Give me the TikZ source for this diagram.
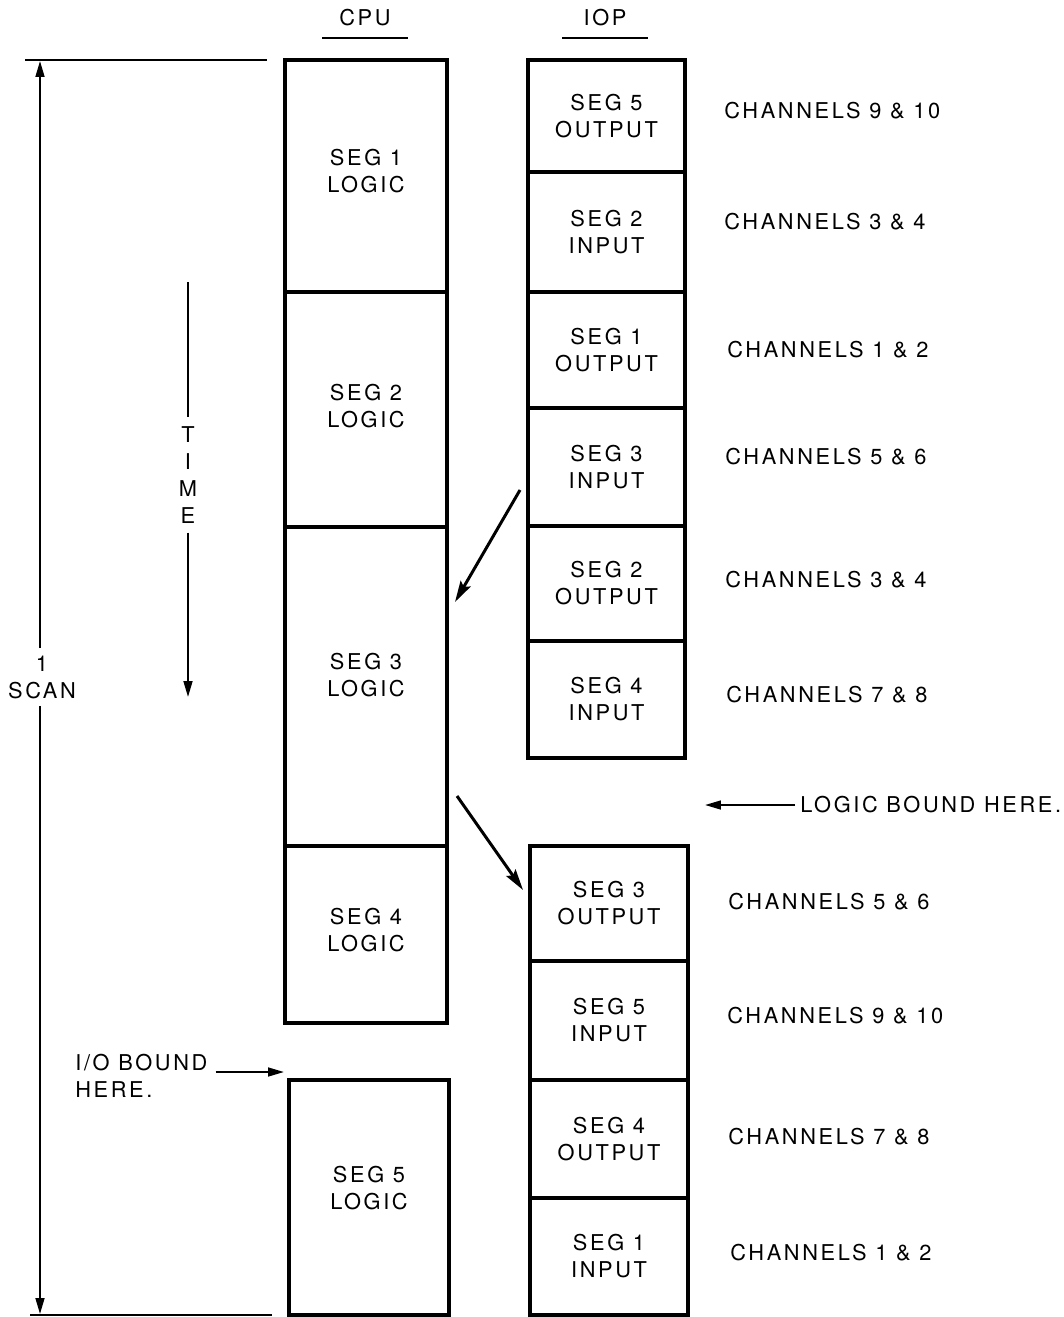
\documentclass[tikz,border=0pt]{standalone}
\usepackage{fontspec}
\setmainfont[LetterSpace=12]{TeX Gyre Heros}
\usepackage{tikz}
\usetikzlibrary{positioning, arrows.meta}

\tikzset{
  segbox/.style={draw, line width=1.8pt, align=center, inner sep=0pt},
  chan/.style={anchor=west, inner sep=0pt},
  dimarrow/.style={line width=1.1pt, -{Triangle[length=9pt, width=5pt]}},
  fatarrow/.style={line width=1.7pt, -{Stealth[length=12pt, width=6.5pt, inset=2pt]}}
}

\begin{document}
\begin{tikzpicture}[x=0.02cm, y=-0.02cm, font=\fontsize{12.4}{15.4}\selectfont]
			\useasboundingbox (0,0) rectangle (1063,1317);

			% Column heads
			\node (cpu) at (365,18) {CPU};
			\node (iop) at (605,18) {IOP};
			\draw[line width=1.2pt] (322,38) -- (408,38);
			\draw[line width=1.2pt] (562,38) -- (648,38);

			% CPU segments
			\node[segbox, minimum width=3.24cm, minimum height=4.64cm, text depth=0.2cm] (c1) at (366,176) {SEG 1\\LOGIC};
			\node[segbox, minimum width=3.24cm, minimum height=4.7cm, text depth=0.16cm] (c2) at (366,409.5) {SEG 2\\LOGIC};
			\node[segbox, minimum width=3.24cm, minimum height=6.38cm, text depth=0.48cm] (c3) at (366,686.5) {SEG 3\\LOGIC};
			\node[segbox, minimum width=3.24cm, minimum height=3.54cm, text depth=0.2cm] (c4) at (366,934.5) {SEG 4\\LOGIC};
			\node[segbox, minimum width=3.2cm, minimum height=4.7cm, text depth=0.4cm] (c5) at (369,1197.5) {SEG 5\\LOGIC};

			% IOP segments, before logic bound
			\node[segbox, minimum width=3.14cm, minimum height=2.24cm] (io1) at (606.5,116) {SEG 5\\OUTPUT};
			\node[segbox, minimum width=3.14cm, minimum height=2.4cm] (io2) at (606.5,232) {SEG 2\\INPUT};
			\node[segbox, minimum width=3.14cm, minimum height=2.32cm] (io3) at (606.5,350) {SEG 1\\OUTPUT};
			\node[segbox, minimum width=3.14cm, minimum height=2.36cm] (io4) at (606.5,467) {SEG 3\\INPUT};
			\node[segbox, minimum width=3.14cm, minimum height=2.3cm] (io5) at (606.5,583.5) {SEG 2\\OUTPUT};
			\node[segbox, minimum width=3.14cm, minimum height=2.34cm] (io6) at (606.5,699.5) {SEG 4\\INPUT};

			% IOP segments, after logic bound
			\node[segbox, minimum width=3.16cm, minimum height=2.3cm] (io7) at (609,903.5) {SEG 3\\OUTPUT};
			\node[segbox, minimum width=3.16cm, minimum height=2.38cm] (io8) at (609,1020.5) {SEG 5\\INPUT};
			\node[segbox, minimum width=3.16cm, minimum height=2.36cm] (io9) at (609,1139) {SEG 4\\OUTPUT};
			\node[segbox, minimum width=3.16cm, minimum height=2.34cm] (io10) at (609,1256.5) {SEG 1\\INPUT};

			% Channels
			\node[chan] (ch1) at (724,111) {CHANNELS 9 \& 10};
			\node[chan] (ch2) at (724,222) {CHANNELS 3 \& 4};
			\node[chan] (ch3) at (727,350) {CHANNELS 1 \& 2};
			\node[chan] (ch4) at (725,457) {CHANNELS 5 \& 6};
			\node[chan] (ch5) at (725,580) {CHANNELS 3 \& 4};
			\node[chan] (ch6) at (726,695) {CHANNELS 7 \& 8};
			\node[chan] (ch7) at (728,902) {CHANNELS 5 \& 6};
			\node[chan] (ch8) at (727,1016) {CHANNELS 9 \& 10};
			\node[chan] (ch9) at (728,1137) {CHANNELS 7 \& 8};
			\node[chan] (ch10) at (730,1253) {CHANNELS 1 \& 2};

			% One scan
			\draw[line width=1.2pt] (25,60) -- (267,60);
			\draw[line width=1.2pt] (30,1315) -- (272,1315);
			\coordinate (scantop) at (40,61);
			\coordinate (scanbot) at (40,1314);
			\node[align=center, inner sep=4pt] (scan) at (42,677) {1\\SCAN};
			\draw[dimarrow] (scan.north -| scantop) -- (scantop);
			\draw[dimarrow] (scan.south -| scanbot) -- (scanbot);

			% Time
			\coordinate (timetop) at (188,282);
			\coordinate (timebot) at (188,697);
			\node[align=center, inner sep=5pt] (time) at (188,475) {T\\I\\M\\E};
			\draw[line width=1.2pt] (timetop) -- (time.north);
			\draw[dimarrow] (time.south) -- (timebot);

			% Transfers
			\coordinate (in3) at (520,490);
			\coordinate (lg3) at (455,602);
			\coordinate (lg3out) at (457,796);
			\coordinate (out3) at (523,890);
			\draw[fatarrow] (in3) -- (lg3);
			\draw[fatarrow] (lg3out) -- (out3);

			% Bounds
			\node[anchor=west, inner sep=0pt] (logicb) at (800,805) {LOGIC BOUND HERE.};
			\coordinate (logicend) at (705,805);
			\draw[dimarrow] ([xshift=-0.1cm]logicb.west) -- (logicend);

			\node[anchor=west, inner sep=0pt] (iob) at (75,1063) {I/O BOUND};
			\node[anchor=west, inner sep=0pt] (ioh) at (75,1090) {HERE.};
			\coordinate (iobend) at (284,1072);
			\draw[dimarrow] ([xshift=0.16cm]iob.east |- iobend) -- (iobend);
		\end{tikzpicture}
\end{document}
